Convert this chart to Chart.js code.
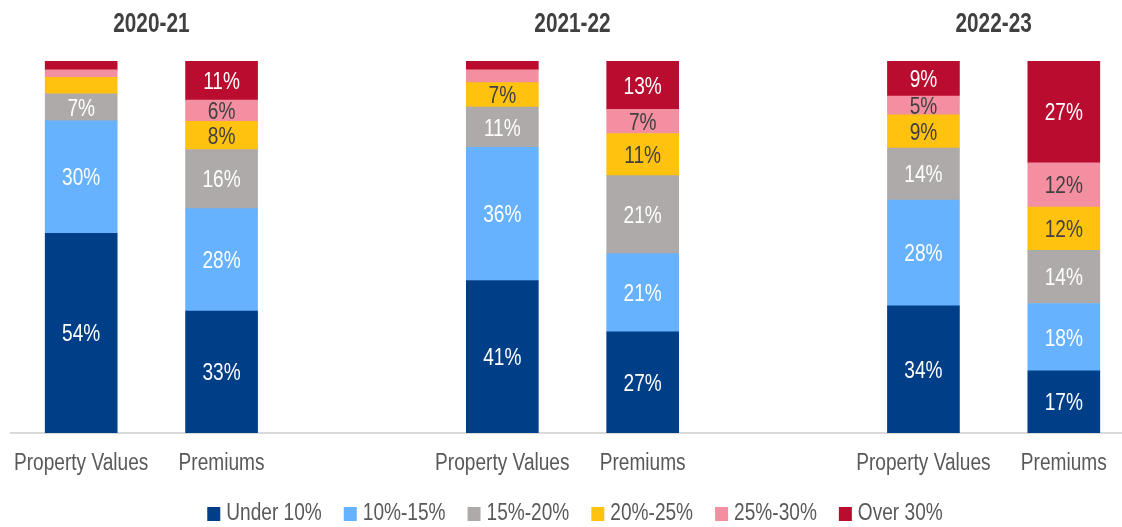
<!DOCTYPE html>
<html>
<head>
<meta charset="utf-8">
<script src="https://cdn.jsdelivr.net/npm/chart.js@4.4.1/dist/chart.umd.min.js"></script>
<style>
html,body{margin:0;padding:0;background:#fff;overflow:hidden;width:1122px;height:527px;}
#wrap{position:absolute;left:0;top:0;width:1150px;height:527px;}
</style>
</head>
<body>
<div id="wrap"><canvas id="c"></canvas></div>
<script>
const FONT = '"Liberation Sans", Arial, sans-serif';
const NARROW = 0.83;
const groupTitles = ["2020-21", "2021-22", "2022-23"];
const categories = ["Property Values", "Premiums", "", "Property Values", "Premiums", "", "Property Values", "Premiums"];
const seriesNames = ["Under 10%", "10%-15%", "15%-20%", "20%-25%", "25%-30%", "Over 30%"];
const under10 = [53.7, 32.8, null, 41.0, 27.2, null, 34.2, 16.7];
const r10to15 = [30.2, 27.5, null, 35.8, 21.0, null, 28.4, 18.1];
const r15to20 = [7.3, 15.9, null, 10.8, 21.0, null, 14.0, 14.3];
const r20to25 = [4.4, 7.6, null, 6.6, 11.3, null, 8.9, 11.6];
const r25to30 = [2.0, 5.7, null, 3.4, 6.5, null, 5.1, 11.9];
const over30 = [2.4, 10.5, null, 2.4, 13.0, null, 9.4, 27.4];
const colors = ["#003F87", "#66B2FF", "#AEAAAA", "#FFC20E", "#F48FA1", "#BA0C2F"];
const labelColors = ["#ffffff", "#ffffff", "#ffffff", "#404040", "#404040", "#ffffff"];
const seriesData = [under10, r10to15, r15to20, r20to25, r25to30, over30];

function narrowText(ctx, text, x, y, sx) {
  ctx.save();
  ctx.translate(x, y);
  ctx.scale(sx, 1);
  ctx.fillText(text, 0, 0);
  ctx.restore();
}

const textPlugin = {
  id: 'customText',
  afterDatasetsDraw(chart) {
    const ctx = chart.ctx;
    const xs = chart.scales.x;
    ctx.save();
    ctx.textBaseline = 'middle';
    // segment labels
    ctx.font = '23px ' + FONT;
    ctx.textAlign = 'center';
    chart.data.datasets.forEach((ds, di) => {
      const meta = chart.getDatasetMeta(di);
      meta.data.forEach((el, i) => {
        const v = ds.data[i];
        if (v == null || v < 4.5) return;
        ctx.fillStyle = labelColors[di];
        narrowText(ctx, Math.round(v) + '%', el.x, (el.y + el.base) / 2 + 2, NARROW);
      });
    });
    // category labels
    ctx.fillStyle = '#595959';
    categories.forEach((c, i) => {
      if (!c) return;
      narrowText(ctx, c, xs.getPixelForValue(i), chart.chartArea.bottom + 31, NARROW);
    });
    // group titles
    ctx.font = 'bold 27px ' + FONT;
    ctx.fillStyle = '#404040';
    groupTitles.forEach((t, g) => {
      const x = (xs.getPixelForValue(g * 3) + xs.getPixelForValue(g * 3 + 1)) / 2;
      narrowText(ctx, t, x, 25, 0.77);
    });
    // legend
    ctx.font = '23px ' + FONT;
    ctx.textAlign = 'left';
    const box = 13, gapText = 6, gapItem = 22;
    const widths = seriesNames.map(n => ctx.measureText(n).width * NARROW);
    const total = widths.reduce((a, w) => a + box + gapText + w, 0) + gapItem * (seriesNames.length - 1);
    let x = chart.width / 2 - total / 2;
    const ly = 514;
    seriesNames.forEach((n, i) => {
      ctx.fillStyle = colors[i];
      ctx.fillRect(x, ly - 7, box, 14);
      ctx.fillStyle = '#595959';
      narrowText(ctx, n, x + box + gapText, ly, NARROW);
      x += box + gapText + widths[i] + gapItem;
    });
    ctx.restore();
  }
};

new Chart(document.getElementById('c'), {
  type: 'bar',
  data: {
    labels: categories,
    datasets: seriesData.map((d, i) => ({
      label: seriesNames[i],
      data: d,
      backgroundColor: colors[i],
      borderWidth: 0,
      barThickness: 72
    }))
  },
  options: {
    responsive: true,
    maintainAspectRatio: false,
    animation: false,
    layout: { padding: { left: 11, right: 16, top: 61, bottom: 94 } },
    plugins: {
      legend: { display: false },
      tooltip: { enabled: false }
    },
    scales: {
      x: {
        stacked: true,
        grid: { display: false, drawTicks: false },
        border: { display: true, color: '#D9D9D9', width: 2 },
        ticks: { display: false }
      },
      y: {
        stacked: true,
        display: false,
        min: 0,
        max: 100
      }
    }
  },
  plugins: [textPlugin]
});
</script>
</body>
</html>
